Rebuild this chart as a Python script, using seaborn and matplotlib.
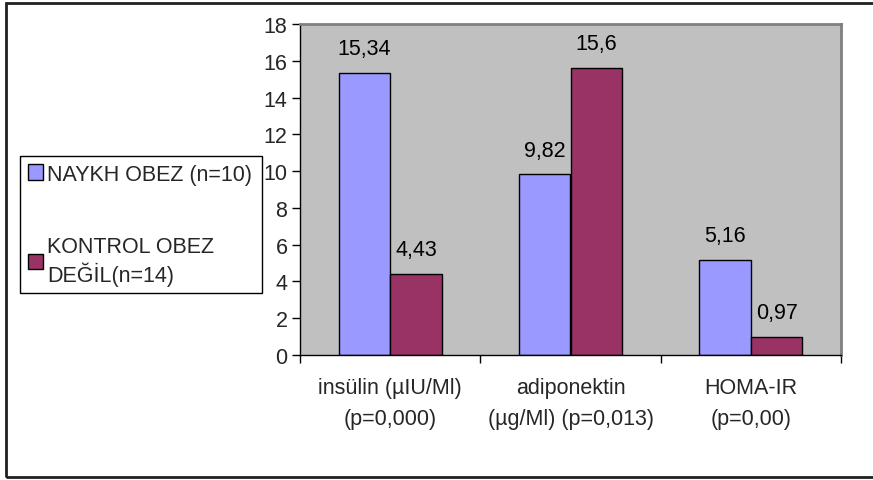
import matplotlib
matplotlib.use("Agg")
import matplotlib.pyplot as plt
from matplotlib.patches import Rectangle, Patch
from matplotlib.ticker import FixedLocator
import seaborn as sns
import pandas as pd

categories = ["insülin (µIU/Ml)\n(p=0,000)", "adiponektin\n(µg/Ml) (p=0,013)", "HOMA-IR\n(p=0,00)"]
groups = ["NAYKH OBEZ (n=10)", "KONTROL OBEZ\nDEĞİL(n=14)"]
naykh_values = [15.34, 9.82, 5.16]
kontrol_values = [4.43, 15.6, 0.97]
colors = ["#9999FF", "#993366"]
y_ticks = [0, 2, 4, 6, 8, 10, 12, 14, 16, 18]

df = pd.DataFrame({
    "cat": categories * 2,
    "group": [groups[0]] * 3 + [groups[1]] * 3,
    "val": naykh_values + kontrol_values,
})

sns.set_theme(style="white")
plt.rcParams["font.family"] = ["Liberation Sans", "DejaVu Sans"]
FS = 15.5

W, H = 873, 481
fig = plt.figure(figsize=(W / 100, H / 100), dpi=100)
fig.patch.set_facecolor("white")
ax = fig.add_axes([300 / W, 1 - 356 / H, (841 - 300) / W, (356 - 25) / H])
ax.set_facecolor("#C0C0C0")

sns.barplot(data=df, x="cat", y="val", hue="group", palette=colors,
            width=0.571, edgecolor="black", linewidth=1, legend=False,
            saturation=1, ax=ax, order=categories, hue_order=groups)

for cont, vals in zip(ax.containers, [naykh_values, kontrol_values]):
    ax.bar_label(cont, labels=[f"{v:g}".replace(".", ",") for v in vals],
                 padding=10, fontsize=FS, color="black")

ax.set_xlim(-0.5, 2.5)
ax.set_ylim(0, 18)
ax.set_yticks(y_ticks)
ax.set_xlabel("")
ax.set_ylabel("")
ax.tick_params(axis="y", which="major", length=6, width=1, color="black",
               direction="out", pad=3, labelsize=FS, left=True)
ax.tick_params(axis="x", which="major", length=0, pad=16, labelsize=FS)
ax.xaxis.set_minor_locator(FixedLocator([-0.5, 0.5, 1.5, 2.5]))
ax.tick_params(axis="x", which="minor", length=6, width=1, color="black",
               direction="out", bottom=True)
for lbl in ax.get_xticklabels():
    lbl.set_linespacing(1.6)

for s in ["left", "bottom"]:
    ax.spines[s].set_color("black")
    ax.spines[s].set_linewidth(1)
for s in ["top", "right"]:
    ax.spines[s].set_color("#808080")
    ax.spines[s].set_linewidth(2)
ax.grid(False)

handles = [Patch(facecolor=c, edgecolor="black", linewidth=1) for c in colors]
leg = fig.legend(handles, groups, loc="upper left",
                 bbox_to_anchor=(20 / W, 1 - 157 / H, (262 - 20) / W, 0),
                 bbox_transform=fig.transFigure, mode="expand",
                 fontsize=FS, frameon=True, fancybox=False, borderaxespad=0,
                 handlelength=0.7, handleheight=0.7, handletextpad=0.2,
                 labelspacing=2.4, borderpad=0.35)
leg.get_frame().set_edgecolor("black")
leg.get_frame().set_linewidth(1)
leg.get_frame().set_alpha(None)

fig.patches.append(Rectangle((6 / W, 1 - 478 / H), 1.0, (478 - 4) / H,
                             transform=fig.transFigure, fill=False,
                             edgecolor="#202020", linewidth=2))

fig.savefig("out.png", dpi=100, facecolor="white")
